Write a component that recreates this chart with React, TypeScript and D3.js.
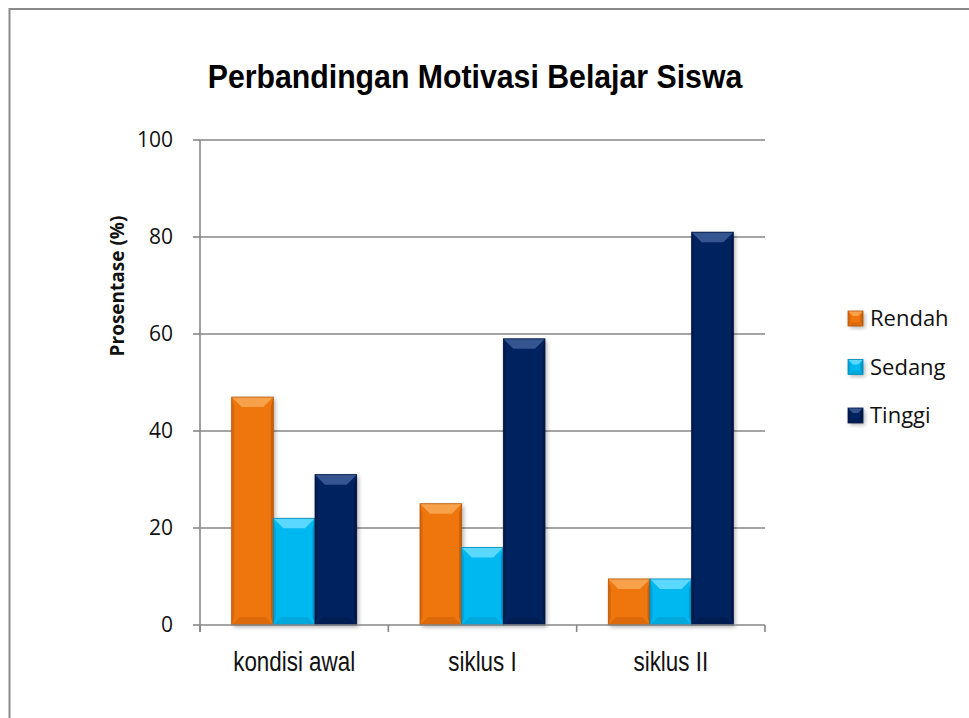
import React from "react";
import * as d3 from "d3";

const CATEGORIES = ["kondisi awal", "siklus I", "siklus II"];
const SERIES = ["Rendah", "Sedang", "Tinggi"];
const RENDAH = [47, 25, 9.5];
const SEDANG = [22, 16, 9.5];
const TINGGI = [31, 59, 81];
const Y_TICKS = [0, 20, 40, 60, 80, 100];

const VALUES = [RENDAH, SEDANG, TINGGI];
// main, top bevel, dark edge
const PALETTE = [
  ["#ef7510", "#f7a24a", "#b9570a"],
  ["#00b8f0", "#5ad8ff", "#0089b8"],
  ["#03215f", "#34558f", "#011440"],
];

const W = 969;
const H = 718;
const margin = { top: 140, right: 204, bottom: 93, left: 200 };

function Bar({ x, y, w, h, c }) {
  const x1 = x + w;
  const y1 = y + h;
  const bt = Math.min(10, h / 3);
  const bs = 2.5;
  const bb = Math.min(8, h / 4);
  const pts = (a) => a.map((p) => p.join(",")).join(" ");
  return (
    <g>
      <rect x={x} y={y} width={w} height={h} fill={c[0]} filter="url(#shadow)" />
      <polygon points={pts([[x, y], [x1, y], [x1 - bt, y + bt], [x + bt, y + bt]])} fill={c[1]} />
      <polygon points={pts([[x, y], [x + bs, y + bt], [x + bs, y1 - bb], [x, y1]])} fill={c[2]} opacity={0.45} />
      <polygon points={pts([[x1, y], [x1 - bs, y + bt], [x1 - bs, y1 - bb], [x1, y1]])} fill={c[2]} opacity={0.7} />
      <polygon points={pts([[x, y1], [x + bb, y1 - bb], [x1 - bb, y1 - bb], [x1, y1]])} fill={c[2]} opacity={0.35} />
      <rect x={x} y={y} width={w} height={h} fill="none" stroke={c[2]} strokeWidth={0.8} />
    </g>
  );
}

export default function App() {
  const x0 = d3
    .scaleBand()
    .domain(CATEGORIES)
    .range([margin.left, W - margin.right])
    .paddingInner(0)
    .paddingOuter(0);
  const x1 = d3
    .scaleBand()
    .domain(SERIES)
    .range([0, x0.bandwidth()])
    .paddingInner(0)
    .paddingOuter(0.76);
  const y = d3.scaleLinear().domain([0, 100]).range([H - margin.bottom, margin.top]);
  const left = margin.left;
  const right = W - margin.right;
  const bottom = y(0);
  const tickEdges = CATEGORIES.map((c) => x0(c)).concat([right]);

  return (
    <svg
      width={W}
      height={H}
      style={{ position: "absolute", left: 0, top: 0, background: "#fff" }}
    >
      <defs>
        <filter id="shadow" x="-20%" y="-20%" width="150%" height="150%">
          <feDropShadow dx="2" dy="2" stdDeviation="2" floodColor="#000" floodOpacity="0.3" />
        </filter>
      </defs>
      <rect x={9.5} y={9} width={1000} height={800} fill="#fff" stroke="#8a8a8a" strokeWidth={2} />

      <text
        x={0}
        y={0}
        textAnchor="middle"
        fontFamily="'Liberation Sans', Arial, sans-serif"
        fontWeight="bold"
        fontSize={34}
        transform="translate(475,88) scale(0.89,1)"
      >
        Perbandingan Motivasi Belajar Siswa
      </text>

      {/* gridlines */}
      {Y_TICKS.map((t) => (
        <g key={t}>
          {t > 0 && (
            <line x1={left} x2={right} y1={y(t)} y2={y(t)} stroke="#878787" strokeWidth={1.6} />
          )}
          <line x1={left - 7} x2={left} y1={y(t)} y2={y(t)} stroke="#878787" strokeWidth={1.6} />
          <text
            x={173}
            y={y(t)}
            dy="0.35em"
            textAnchor="end"
            fontFamily="'Open Sans', sans-serif"
            fontSize={21}
            fill="#111"
          >
            {t}
          </text>
        </g>
      ))}

      {/* bars */}
      {CATEGORIES.map((cat, ci) => (
        <g key={cat} transform={`translate(${x0(cat)},0)`}>
          {SERIES.map((s, si) => {
            const v = VALUES[si][ci];
            return (
              <Bar
                key={s}
                x={x1(s)}
                y={y(v)}
                w={x1.bandwidth()}
                h={bottom - y(v)}
                c={PALETTE[si]}
              />
            );
          })}
        </g>
      ))}

      {/* axes */}
      <line x1={left} x2={left} y1={y(100)} y2={bottom + 7} stroke="#878787" strokeWidth={1.6} />
      <line x1={left} x2={right} y1={bottom} y2={bottom} stroke="#878787" strokeWidth={1.6} />
      {tickEdges.map((tx, i) => (
        <line key={i} x1={tx} x2={tx} y1={bottom} y2={bottom + 7} stroke="#878787" strokeWidth={1.6} />
      ))}
      {CATEGORIES.map((cat) => {
        const cx = x0(cat) + x0.bandwidth() / 2;
        return (
          <text
            key={cat}
            x={0}
            y={0}
            textAnchor="middle"
            fontFamily="'Liberation Sans', Arial, sans-serif"
            fontSize={28}
            fill="#111"
            transform={`translate(${cx},671) scale(0.8,1)`}
          >
            {cat}
          </text>
        );
      })}

      <text
        transform="translate(124,286) rotate(-90)"
        textAnchor="middle"
        fontFamily="'Open Sans', sans-serif"
        fontWeight="bold"
        fontSize={19}
        fill="#111"
      >
        Prosentase (%)
      </text>

      {/* legend */}
      {SERIES.map((s, si) => {
        const ly = 311 + si * 48.5;
        return (
          <g key={s}>
            <Bar x={848} y={ly} w={15} h={15} c={PALETTE[si]} />
            <text
              x={870}
              y={ly + 7.5}
              dy="0.36em"
              fontFamily="'Open Sans', sans-serif"
              fontSize={22}
              fill="#111"
            >
              {s}
            </text>
          </g>
        );
      })}
    </svg>
  );
}
